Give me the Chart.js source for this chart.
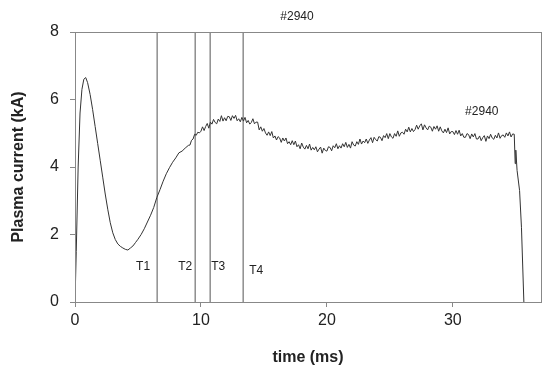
<!DOCTYPE html>
<html>
<head>
<meta charset="utf-8">
<script src="https://cdn.jsdelivr.net/npm/chart.js@4.4.0/dist/chart.umd.min.js"></script>
<style>
  html, body { margin: 0; padding: 0; background: #fff; }
  canvas { display: block; }
</style>
</head>
<body>
<canvas id="grafico" width="550" height="371"></canvas>
<script>
const tiempo = [
  0, 0.1, 0.25, 0.4, 0.55, 0.7, 0.85, 1.0, 1.2, 1.4, 1.6, 1.8, 2.0, 2.2, 2.4, 2.6, 2.8, 3.0,
  3.2, 3.4, 3.6, 3.8, 4.0, 4.2, 4.4, 4.6, 4.8, 5.0, 5.25, 5.5, 5.75, 6.0, 6.25, 6.5,
  6.75, 7.0, 7.25, 7.5, 7.75, 8.0, 8.25, 8.5, 8.75,
  9.0, 9.125, 9.25, 9.375, 9.5, 9.625, 9.75, 9.875,
  10.0, 10.125, 10.25, 10.375, 10.5, 10.625, 10.75, 10.875,
  11.0, 11.125, 11.25, 11.375, 11.5, 11.625, 11.75, 11.875,
  12.0, 12.125, 12.25, 12.375, 12.5, 12.625, 12.75, 12.875,
  13.0, 13.125, 13.25, 13.375, 13.5, 13.625, 13.75, 13.875,
  14.0, 14.125, 14.25, 14.375, 14.5, 14.625, 14.75, 14.875,
  15.0, 15.125, 15.25, 15.375, 15.5, 15.625, 15.75, 15.875,
  16.0, 16.125, 16.25, 16.375, 16.5, 16.625, 16.75, 16.875,
  17.0, 17.125, 17.25, 17.375, 17.5, 17.625, 17.75, 17.875,
  18.0, 18.125, 18.25, 18.375, 18.5, 18.625, 18.75, 18.875,
  19.0, 19.125, 19.25, 19.375, 19.5, 19.625, 19.75, 19.875,
  20.0, 20.125, 20.25, 20.375, 20.5, 20.625, 20.75, 20.875,
  21.0, 21.125, 21.25, 21.375, 21.5, 21.625, 21.75, 21.875,
  22.0, 22.125, 22.25, 22.375, 22.5, 22.625, 22.75, 22.875,
  23.0, 23.125, 23.25, 23.375, 23.5, 23.625, 23.75, 23.875,
  24.0, 24.125, 24.25, 24.375, 24.5, 24.625, 24.75, 24.875,
  25.0, 25.125, 25.25, 25.375, 25.5, 25.625, 25.75, 25.875,
  26.0, 26.125, 26.25, 26.375, 26.5, 26.625, 26.75, 26.875,
  27.0, 27.125, 27.25, 27.375, 27.5, 27.625, 27.75, 27.875,
  28.0, 28.125, 28.25, 28.375, 28.5, 28.625, 28.75, 28.875,
  29.0, 29.125, 29.25, 29.375, 29.5, 29.625, 29.75, 29.875,
  30.0, 30.125, 30.25, 30.375, 30.5, 30.625, 30.75, 30.875,
  31.0, 31.125, 31.25, 31.375, 31.5, 31.625, 31.75, 31.875,
  32.0, 32.125, 32.25, 32.375, 32.5, 32.625, 32.75, 32.875,
  33.0, 33.125, 33.25, 33.375, 33.5, 33.625, 33.75, 33.875,
  34.0, 34.125, 34.25, 34.375, 34.5, 34.625, 34.75, 34.875,
  34.95, 35.0, 35.1, 35.3, 35.45, 35.64
];
const corriente = [
  0, 1.5, 4.0, 5.6, 6.3, 6.6, 6.65, 6.5, 6.15, 5.7, 5.2, 4.7, 4.2, 3.7, 3.2, 2.75, 2.35, 2.05,
  1.85, 1.72, 1.65, 1.6, 1.56, 1.54, 1.6, 1.66, 1.76, 1.86, 2.0, 2.17, 2.37, 2.57, 2.8, 3.1,
  3.33, 3.58, 3.8, 3.98, 4.14, 4.27, 4.42, 4.47, 4.56,
  4.64, 4.65, 4.79, 4.83, 4.97, 4.94, 5.03, 5.01,
  5.06, 5.19, 5.08, 5.20, 5.29, 5.15, 5.33, 5.27,
  5.41, 5.32, 5.28, 5.42, 5.35, 5.52, 5.36, 5.46,
  5.37, 5.50, 5.49, 5.38, 5.52, 5.44, 5.53, 5.37,
  5.43, 5.34, 5.47, 5.36, 5.47, 5.31, 5.38, 5.27,
  5.32, 5.43, 5.28, 5.33, 5.33, 5.10, 5.19, 5.06,
  5.14, 5.01, 4.94, 5.04, 4.93, 5.05, 4.86, 4.92,
  4.80, 4.90, 4.86, 4.73, 4.86, 4.77, 4.86, 4.69,
  4.75, 4.66, 4.78, 4.66, 4.77, 4.60, 4.66, 4.54,
  4.71, 4.59, 4.53, 4.64, 4.54, 4.68, 4.50, 4.58,
  4.51, 4.60, 4.45, 4.53, 4.59, 4.41, 4.56, 4.49,
  4.47, 4.60, 4.58, 4.48, 4.63, 4.57, 4.69, 4.54,
  4.63, 4.56, 4.69, 4.60, 4.73, 4.58, 4.67, 4.56,
  4.75, 4.65, 4.62, 4.75, 4.67, 4.83, 4.68, 4.77,
  4.72, 4.83, 4.70, 4.80, 4.87, 4.72, 4.88, 4.81,
  4.77, 4.90, 4.88, 4.78, 4.93, 4.87, 4.99, 4.84,
  4.99, 4.89, 4.85, 4.99, 4.91, 5.07, 4.91, 5.01,
  5.03, 4.97, 5.12, 5.04, 5.18, 5.04, 5.14, 5.05,
  5.11, 5.24, 5.12, 5.22, 5.28, 5.10, 5.25, 5.16,
  5.10, 5.21, 5.18, 5.06, 5.20, 5.12, 5.22, 5.06,
  5.19, 5.07, 5.01, 5.12, 5.02, 5.16, 4.98, 5.05,
  5.05, 4.96, 5.08, 4.97, 5.09, 4.92, 4.99, 4.88,
  4.88, 4.99, 4.96, 4.84, 4.98, 4.89, 4.99, 4.83,
  4.83, 4.92, 4.78, 4.87, 4.93, 4.76, 4.92, 4.84,
  4.97, 4.86, 4.82, 4.94, 4.86, 5.01, 4.85, 4.93,
  4.95, 4.88, 5.01, 4.92, 5.04, 4.89, 4.98, 4.97,
  4.1, 4.5, 3.9, 3.3, 2.2, 0
];

// instantes marcados
const marcas = [6.52, 9.54, 10.73, 13.35];
const etiquetasMarcas = ["T1", "T2", "T3", "T4"];

const ticksX = [0, 10, 20, 30];
const ticksY = [0, 2, 4, 6, 8];

const puntos = tiempo.map((t, i) => ({ x: t, y: corriente[i] }));

const datasetsMarcas = marcas.map(t => ({
    data: [{ x: t, y: ticksY[0] }, { x: t, y: ticksY[ticksY.length - 1] }],
    borderColor: '#555',
    borderWidth: 1,
    pointRadius: 0
}));

const fuente = "'Liberation Sans', Arial, sans-serif";

// marco gris y textos sueltos
const extras = {
    id: 'extras',
    afterDraw(chart) {
        const { ctx, chartArea, scales } = chart;
        ctx.save();
        ctx.strokeStyle = '#888';
        ctx.lineWidth = 1;
        ctx.strokeRect(chartArea.left + 0.5, chartArea.top + 0.5,
            chartArea.right - chartArea.left, chartArea.bottom - chartArea.top);

        ctx.fillStyle = '#222';
        ctx.font = "12px " + fuente;
        ctx.textAlign = 'center';
        ctx.textBaseline = 'middle';
        const desp = [-14, -10, 8, 13];
        const alto = [267, 267, 267, 271];
        marcas.forEach((t, i) => {
            const x = scales.x.getPixelForValue(t);
            ctx.fillText(etiquetasMarcas[i], x + desp[i], alto[i]);
        });

        ctx.fillText("#2940", 297, 17);
        ctx.fillText("#2940", scales.x.getPixelForValue(32.3), scales.y.getPixelForValue(5.63));
        ctx.restore();
    }
};

new Chart(document.getElementById("grafico"), {
    type: 'line',
    data: {
        datasets: [
            {
                data: puntos,
                borderColor: '#333',
                borderWidth: 1,
                pointRadius: 0,
                tension: 0
            },
            ...datasetsMarcas
        ]
    },
    options: {
        responsive: false,
        animation: false,
        layout: { padding: { left: 0, right: 9, top: 32, bottom: 0 } },
        plugins: { legend: { display: false }, tooltip: { enabled: false } },
        scales: {
            x: {
                type: 'linear',
                min: 0,
                max: 37,
                afterBuildTicks: s => { s.ticks = ticksX.map(v => ({ value: v })); },
                afterFit: s => { s.height = 69; },
                grid: { drawOnChartArea: false, tickLength: 5, color: '#888' },
                border: { color: '#888' },
                ticks: { color: '#222', font: { size: 16, family: fuente }, padding: 4, maxRotation: 0 },
                title: { display: true, text: 'time (ms)', color: '#222', font: { size: 16, weight: 'bold', family: fuente }, padding: { top: 8 } }
            },
            y: {
                min: 0,
                max: 8,
                afterBuildTicks: s => { s.ticks = ticksY.map(v => ({ value: v })); },
                afterFit: s => { s.width = 75; },
                grid: { drawOnChartArea: false, tickLength: 5, color: '#888' },
                border: { color: '#888' },
                ticks: { color: '#222', font: { size: 16, family: fuente }, padding: 11 },
                title: { display: true, text: 'Plasma current (kA)', color: '#222', font: { size: 16, weight: 'bold', family: fuente }, padding: { top: 9, bottom: 0 } }
            }
        }
    },
    plugins: [extras]
});
</script>
</body>
</html>
